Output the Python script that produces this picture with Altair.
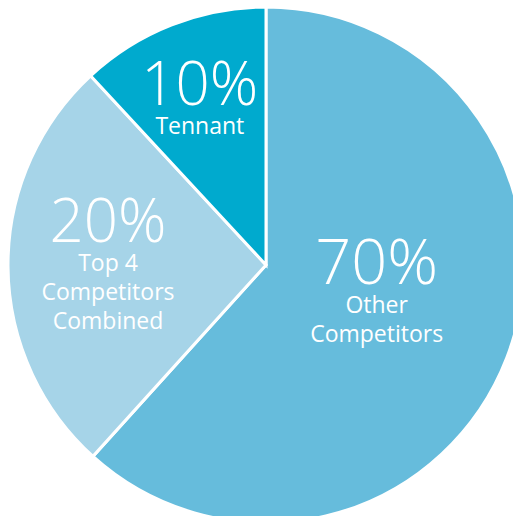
import math
import altair as alt
import pandas as pd

categories = ["Other Competitors", "Top 4 Competitors Combined", "Tennant"]
shares = [61.7, 26.4, 11.9]
pct_labels = ["70%", "20%", "10%"]
name_labels = ["Other\nCompetitors", "Top 4\nCompetitors\nCombined", "Tennant"]
colors = ["#66BCDC", "#A6D4E8", "#00AACE"]

df = pd.DataFrame({
    "category": categories,
    "share": shares,
    "pct": pct_labels,
    "name": name_labels,
    "order": [0, 1, 2],
})

base = (
    alt.Chart(df)
    .transform_window(cum="sum(share)", sort=[alt.SortField("order")], frame=[None, 0])
    .transform_calculate(start="datum.cum - datum.share", mid="datum.cum - datum.share / 2")
)

theta_scale = alt.Scale(domain=[0, 100], range=[0, 2 * math.pi])

arc = base.mark_arc(radius=258, stroke="white", strokeWidth=3).encode(
    theta=alt.Theta("start:Q", scale=theta_scale),
    theta2="cum:Q",
    color=alt.Color("category:N", scale=alt.Scale(domain=categories, range=colors), legend=None),
)

# label placement styles per slice: radius along mid-angle, pixel nudges, font size
styles = {
    "Other Competitors": dict(r=110, dx=8, dy=-21, size=63),
    "Top 4 Competitors Combined": dict(r=158, dx=0, dy=-24, size=60),
    "Tennant": dict(r=173, dx=-3, dy=1, size=60),
}

layers = [arc]
for cat, s in styles.items():
    sub = base.transform_filter(alt.datum.category == cat)
    pct = sub.mark_text(
        align="center", baseline="alphabetic", font="Open Sans", fontWeight=300,
        fontSize=s["size"], color="white", dx=s["dx"], dy=s["dy"],
    ).encode(
        theta=alt.Theta("mid:Q", scale=theta_scale),
        radius=alt.value(s["r"]),
        text="pct:N",
    )
    name = sub.mark_text(
        align="center", baseline="alphabetic", font="Open Sans",
        fontSize=23, color="white", dx=s["dx"], dy=s["dy"] + 29.5,
        lineBreak="\n", lineHeight=29,
    ).encode(
        theta=alt.Theta("mid:Q", scale=theta_scale),
        radius=alt.value(s["r"]),
        text="name:N",
    )
    layers += [pct, name]

chart = (
    alt.layer(*layers)
    .properties(
        width=494, height=494,
        padding={"left": 11, "right": 0, "top": 10, "bottom": 4},
        autosize="none", background="white",
    )
    .configure_view(stroke=None)
)

chart.save("out.html", embed_options={"renderer": "svg", "actions": False})
